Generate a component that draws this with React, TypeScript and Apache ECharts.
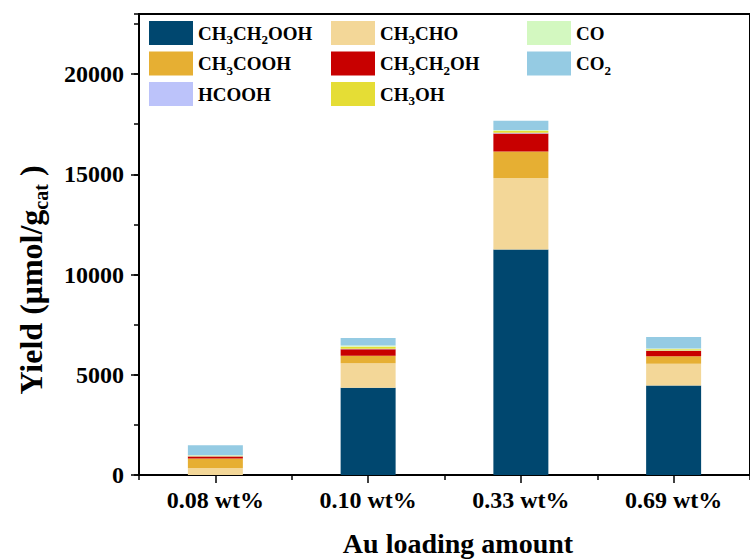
import React, { useEffect, useRef } from "react";
import * as echarts from "echarts";

const categories = ["0.08 wt%", "0.10 wt%", "0.33 wt%", "0.69 wt%"];

const seriesNames = ["CH3CH2OOH", "CH3CHO", "CH3COOH", "CH3CH2OH", "HCOOH", "CH3OH", "CO", "CO2"];
const ch3ch2oohValues = [0, 4350, 11250, 4470];
const ch3choValues = [350, 1220, 3570, 1080];
const ch3coohValues = [470, 380, 1320, 370];
const ch3ch2ohValues = [100, 330, 900, 270];
const hcoohValues = [10, 20, 30, 20];
const ch3ohValues = [30, 100, 90, 60];
const coValues = [20, 60, 50, 40];
const co2Values = [500, 370, 470, 580];

const seriesValues = [
  ch3ch2oohValues,
  ch3choValues,
  ch3coohValues,
  ch3ch2ohValues,
  hcoohValues,
  ch3ohValues,
  coValues,
  co2Values,
];
const seriesColors = ["#00476F", "#F3D798", "#E6AF33", "#C80000", "#BCC3FA", "#E5DD35", "#D3F8C0", "#95CBE3"];

const legendRich: Record<string, string> = {
  CH3CH2OOH: "CH{s|3}CH{s|2}OOH",
  CH3CHO: "CH{s|3}CHO",
  CO: "CO",
  CH3COOH: "CH{s|3}COOH",
  CH3CH2OH: "CH{s|3}CH{s|2}OH",
  CO2: "CO{s|2}",
  HCOOH: "HCOOH",
  CH3OH: "CH{s|3}OH",
};

const legendColumns = [
  ["CH3CH2OOH", "CH3COOH", "HCOOH"],
  ["CH3CHO", "CH3CH2OH", "CH3OH"],
  ["CO", "CO2"],
];
const legendLefts = [149, 331, 527];

const FONT = "'Liberation Serif', 'Times New Roman', serif";

export default function App() {
  const ref = useRef<HTMLDivElement>(null);
  useEffect(() => {
    if (!ref.current) return;
    const chart = echarts.init(ref.current, null, { renderer: "svg" });
    const legendTextStyle = {
      fontFamily: FONT,
      fontWeight: "bold",
      fontSize: 19,
      color: "#000",
      lineHeight: 26,
      rich: {
        s: {
          fontFamily: FONT,
          fontWeight: "bold",
          fontSize: 13,
          color: "#000",
          lineHeight: 8,
          verticalAlign: "bottom",
        },
      },
    };
    chart.setOption({
      animation: false,
      grid: {
        left: 139,
        top: 14,
        width: 618,
        bottom: 84,
        show: true,
        borderColor: "#000",
        borderWidth: 2,
        backgroundColor: "transparent",
      },
      legend: legendColumns.map((col, i) => ({
        data: col,
        orient: "vertical",
        left: legendLefts[i],
        top: 20,
        itemWidth: 44,
        itemHeight: 24,
        itemGap: 4.5,
        icon: "rect",
        selectedMode: false,
        padding: 0,
        formatter: (name: string) => legendRich[name] || name,
        textStyle: legendTextStyle,
      })),
      xAxis: [
        {
          type: "category",
          data: categories,
          gridIndex: 0,
          axisLine: { show: true, lineStyle: { color: "#000", width: 2 } },
          axisTick: { show: true, alignWithLabel: true, length: 8, lineStyle: { color: "#000", width: 1.5 } },
          axisLabel: { margin: 13, fontFamily: FONT, fontWeight: "bold", fontSize: 24, color: "#000" },
          splitLine: { show: false },
        },
        {
          type: "category",
          data: categories,
          gridIndex: 0,
          position: "bottom",
          axisLine: { show: false },
          axisTick: { show: true, length: 5, lineStyle: { color: "#000", width: 1.5 } },
          axisLabel: { show: false },
          splitLine: { show: false },
        },
      ],
      yAxis: [
        {
          type: "value",
          min: 0,
          max: 23000,
          interval: 5000,
          axisLine: { show: true, lineStyle: { color: "#000", width: 2 } },
          axisTick: { show: true, length: 8, lineStyle: { color: "#000", width: 1.5 } },
          axisLabel: {
            margin: 15,
            showMaxLabel: false,
            formatter: (v: number) => String(v),
            fontFamily: FONT,
            fontWeight: "bold",
            fontSize: 24,
            color: "#000",
          },
          splitLine: { show: false },
        },
        {
          type: "value",
          min: 0,
          max: 23000,
          interval: 2500,
          position: "left",
          offset: 0,
          axisLine: { show: false },
          axisTick: { show: true, length: 5, lineStyle: { color: "#000", width: 1.5 } },
          axisLabel: { show: false },
          splitLine: { show: false },
        },
      ],
      series: seriesNames.map((name, i) => ({
        name,
        type: "bar",
        stack: "total",
        xAxisIndex: 0,
        yAxisIndex: 0,
        barWidth: "36%",
        itemStyle: { color: seriesColors[i] },
        data: seriesValues[i],
      })),
      graphic: [
        {
          type: "text",
          x: 458,
          y: 543,
          style: {
            text: "Au loading amount",
            fontFamily: FONT,
            fontWeight: "bold",
            fontSize: 28,
            fill: "#000",
            align: "center",
            verticalAlign: "middle",
          },
        },
        {
          type: "text",
          x: 31,
          y: 280,
          rotation: Math.PI / 2,
          style: {
            text: "Yield (μmol/g{s|cat} )",
            fontFamily: FONT,
            fontWeight: "bold",
            fontSize: 32,
            fill: "#000",
            align: "center",
            verticalAlign: "middle",
            lineHeight: 40,
            rich: {
              s: {
                fontFamily: FONT,
                fontWeight: "bold",
                fontSize: 20,
                fill: "#000",
                lineHeight: 10,
                verticalAlign: "bottom",
              },
            },
          },
        },
      ],
    });
    return () => chart.dispose();
  }, []);
  return <div ref={ref} style={{ width: 750, height: 559, position: "absolute", left: 0, top: 0 }} />;
}
